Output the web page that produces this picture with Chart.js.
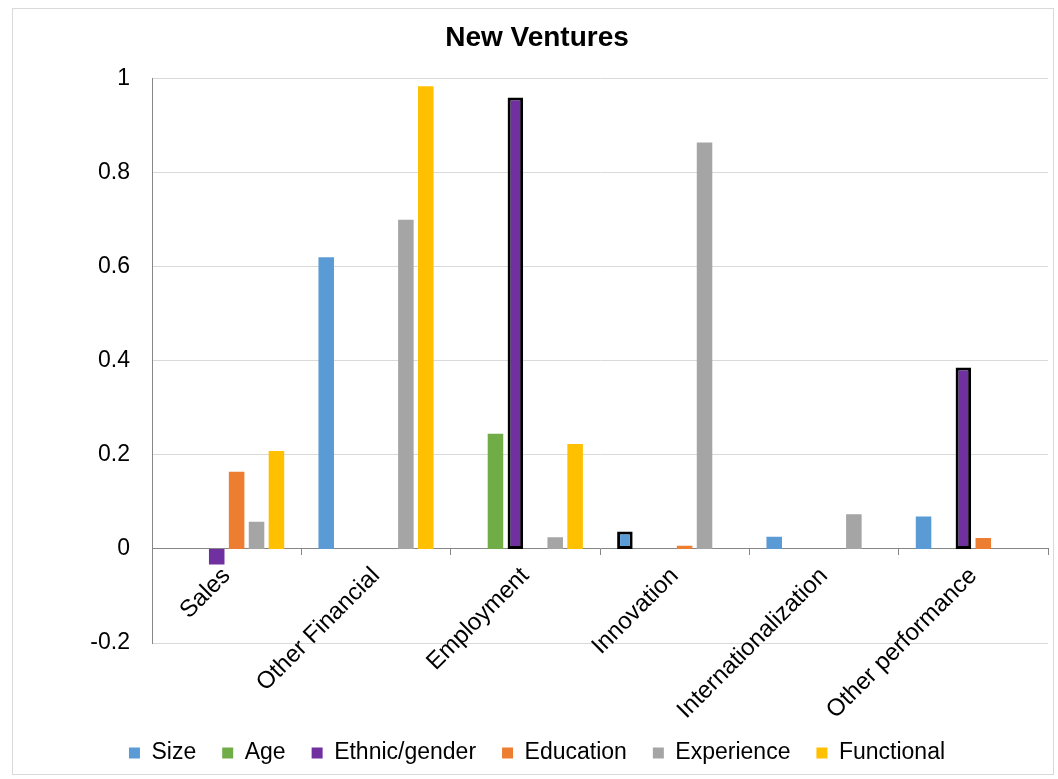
<!DOCTYPE html>
<html>
<head>
<meta charset="utf-8">
<script src="https://cdn.jsdelivr.net/npm/chart.js@4"></script>
<style>
  body { margin: 0; background: #fff; }
</style>
</head>
<body>
<canvas id="ventures" width="1058" height="779"></canvas>
<script>
const categories = ['Sales', 'Other Financial', 'Employment', 'Innovation', 'Internationalization', 'Other performance'];

const size       = [null, 0.62, null, 0.037, 0.026, 0.069];
const age        = [null, null, 0.245, null, null, null];
const ethnic     = [-0.033, null, 0.96, null, null, 0.386];
const education  = [0.164, null, null, 0.007, null, 0.023];
const experience = [0.058, 0.70, 0.025, 0.864, 0.074, null];
const functional = [0.208, 0.984, 0.223, null, null, null];

Chart.defaults.font.family = '"Liberation Sans", Arial, sans-serif';
Chart.defaults.color = '#262626';

// black outline on a few single bars
function outline(idx) {
	return function(c) {
		return (c.type === 'data' && idx.indexOf(c.dataIndex) >= 0) ? 3 : 0;
	};
}

function series(label, data, color, marked) {
	return {
		label: label,
		data: data,
		backgroundColor: color,
		borderColor: '#000',
		borderWidth: outline(marked || []),
		borderSkipped: false,
		categoryPercentage: 0.8,
		barPercentage: 0.78
	};
}

const frame = {
	id: 'frame',
	beforeDraw(chart) {
		const ctx = chart.ctx;
		ctx.save();
		ctx.strokeStyle = '#d9d9d9';
		ctx.lineWidth = 1;
		ctx.strokeRect(12.5, 8.5, 1041, 766);
		ctx.restore();
	}
};

var ctx = document.getElementById('ventures').getContext('2d');
new Chart(ctx, {
	type: 'bar',
	data: {
		labels: categories,
		datasets: [
			series('Size', size, '#5b9bd5', [3]),
			series('Age', age, '#70ad47'),
			series('Ethnic/gender', ethnic, '#7030a0', [2, 5]),
			series('Education', education, '#ed7d31'),
			series('Experience', experience, '#a5a5a5'),
			series('Functional', functional, '#ffc000')
		]
	},
	options: {
		responsive: false,
		animation: false,
		layout: {
			padding: { left: 26, right: 10, top: 10, bottom: 4.5 }
		},
		plugins: {
			title: {
				display: true,
				text: 'New Ventures',
				color: '#000',
				font: { size: 28, weight: 'bold' },
				padding: { top: 11, bottom: 24 }
			},
			legend: {
				position: 'bottom',
				title: {
					display: true,
					text: ' ',
					font: { size: 10 },
					padding: { top: 60.5, bottom: 0 }
				},
				labels: {
					boxWidth: 11,
					boxHeight: 11,
					padding: 26,
					color: '#000',
					font: { size: 23 }
				}
			},
			tooltip: { enabled: false }
		},
		scales: {
			x: {
				position: { y: 0 },
				grid: {
					drawOnChartArea: false,
					drawTicks: true,
					tickLength: 6,
					color: '#868686',
					offset: true
				},
				border: { color: '#868686', width: 1 },
				ticks: {
					minRotation: 45,
					maxRotation: 45,
					padding: 7,
					color: '#000',
					font: { size: 24 }
				}
			},
			y: {
				min: -0.2,
				max: 1,
				ticks: {
					stepSize: 0.2,
					padding: 22,
					color: '#000',
					font: { size: 23 },
					callback: function(v) { return String(Math.round(v * 10) / 10); }
				},
				grid: {
					color: '#d9d9d9',
					drawTicks: false
				},
				border: { color: '#868686', width: 1 },
				afterFit: function(s) { s.width = 126; }
			}
		}
	},
	plugins: [frame]
});
</script>
</body>
</html>
